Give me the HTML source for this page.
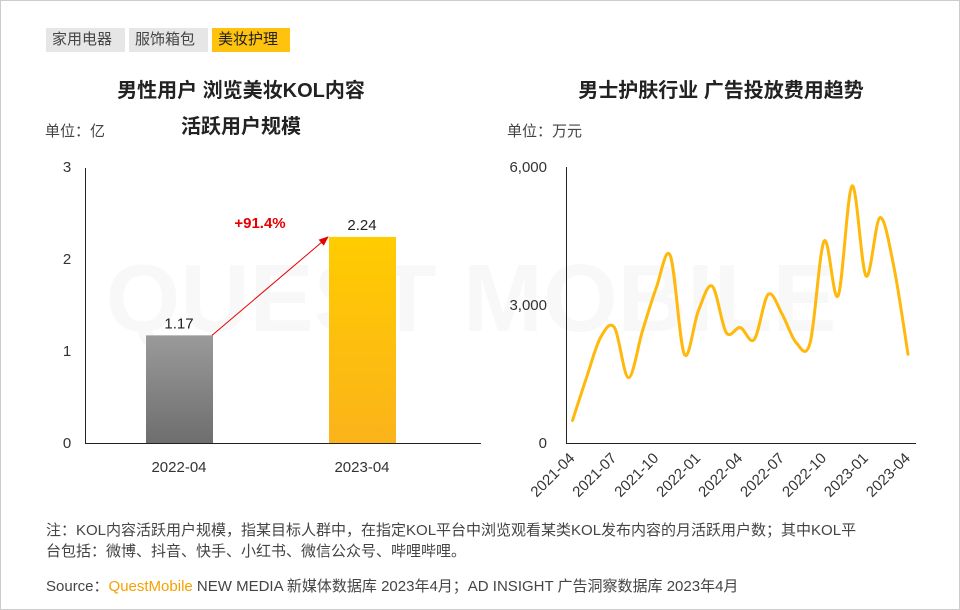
<!DOCTYPE html>
<html><head><meta charset="utf-8"><style>
body{margin:0;background:#fff;}
#page{position:relative;width:958px;height:608px;border:1px solid #ccc;overflow:hidden;font-family:"Liberation Sans","Noto Sans CJK SC",sans-serif;color:#333;}
.tab{position:absolute;top:27px;height:24px;line-height:24px;font-size:15px;padding:0 6px;background:#e6e6e6;color:#444;}
.abs{position:absolute;white-space:nowrap;}
</style></head><body>
<div id="page">
<div class="tab" style="left:45px;width:67px">家用电器</div>
<div class="tab" style="left:128px;width:67px">服饰箱包</div>
<div class="tab" style="left:211px;width:66px;background:#ffc20e;color:#222">美妆护理</div>
<div class="abs" style="left:0;width:480px;top:72px;text-align:center;font-size:20px;font-weight:bold;line-height:36px;color:#222">男性用户 浏览美妆KOL内容<br>活跃用户规模</div>
<div class="abs" style="left:44px;top:119px;font-size:15px;color:#444">单位：亿</div>
<div class="abs" style="left:480px;width:480px;top:78px;text-align:center;font-size:20px;font-weight:bold;line-height:24px;color:#222">男士护肤行业 广告投放费用趋势</div>
<div class="abs" style="left:506px;top:119px;font-size:15px;color:#444">单位：万元</div>
<svg id="svg" width="960" height="610" style="position:absolute;left:0;top:0">
<defs>
<linearGradient id="gg" x1="0" y1="0" x2="0" y2="1"><stop offset="0" stop-color="#9a9a9a"/><stop offset="1" stop-color="#6e6e6e"/></linearGradient>
<linearGradient id="gy" x1="0" y1="0" x2="0" y2="1"><stop offset="0" stop-color="#ffcc00"/><stop offset="1" stop-color="#fbb31a"/></linearGradient>
<marker id="ar" markerWidth="10" markerHeight="8" refX="9" refY="4" orient="auto"><path d="M0,0 L10,4 L0,8 Z" fill="#e60000"/></marker>
</defs>
<text x="470" y="330" font-size="96" font-weight="bold" fill="#f8f8f8" text-anchor="middle" font-family="Liberation Sans">QUEST MOBILE</text>
<g id="left"></g><g id="right"></g>
</svg>
<div class="abs" style="left:45px;top:519px;font-size:15px;line-height:21px;color:#444">注：KOL内容活跃用户规模，指某目标人群中，在指定KOL平台中浏览观看某类KOL发布内容的月活跃用户数；其中KOL平<br>台包括：微博、抖音、快手、小红书、微信公众号、哔哩哔哩。</div>
<div class="abs" style="left:45px;top:574px;font-size:15px;color:#444">Source：<span style="color:#f7a000">QuestMobile</span> NEW MEDIA 新媒体数据库 2023年4月；AD INSIGHT 广告洞察数据库 2023年4月</div>
</div>
<script>
const barCats=["2022-04","2023-04"];
const barVals=[1.17,2.24];
const barTicks=[0,1,2,3];
const growthLabel="+91.4%";
const lineCats=["2021-04","2021-05","2021-06","2021-07","2021-08","2021-09","2021-10","2021-11","2021-12","2022-01","2022-02","2022-03","2022-04","2022-05","2022-06","2022-07","2022-08","2022-09","2022-10","2022-11","2022-12","2023-01","2023-02","2023-03","2023-04"];
const lineVals=[490,1420,2290,2510,1420,2430,3380,4070,1930,2870,3410,2400,2510,2250,3230,2800,2180,2180,4390,3200,5590,3630,4900,3810,1930];
const lineTicks=[0,3000,6000];
const NS="http://www.w3.org/2000/svg";
function mk(p,t,a){const e=document.createElementNS(NS,t);for(const k in a)e.setAttribute(k,a[k]);p.appendChild(e);return e;}
const L=document.getElementById('left');
const ly=v=>442-v*92;
const lx=i=>178+i*183;
barTicks.forEach(t=>{const e=mk(L,'text',{x:66,y:ly(t)+5,'font-size':15,'text-anchor':'middle',fill:'#333'});e.textContent=t;

});
barVals.forEach((v,i)=>{
 const r=mk(L,'rect',{x:lx(i)-33,y:ly(v),width:67,height:ly(0)-ly(v),fill:i?'url(#gy)':'url(#gg)'});
 
 
 const t=mk(L,'text',{x:lx(i),y:ly(v)-7,'font-size':15,'text-anchor':'middle',fill:'#222'});t.textContent=v.toFixed(2);
 
 
 const c=mk(L,'text',{x:lx(i),y:471,'font-size':15,'text-anchor':'middle',fill:'#333'});c.textContent=barCats[i];
 
 
});
const ax=mk(L,'path',{d:'M84.5,167 V442.5 H480',stroke:'#222',fill:'none','stroke-width':1});


const arw=mk(L,'line',{x1:lx(0)+33,y1:ly(barVals[0]),x2:lx(1)-34,y2:ly(barVals[1]),stroke:'#e60000','stroke-width':1,'marker-end':'url(#ar)'});


const gl=mk(L,'text',{x:259,y:227,'font-size':15,'font-weight':'bold','text-anchor':'middle',fill:'#e60000'});gl.textContent=growthLabel;


const R=document.getElementById('right');
const ry=v=>442-v/6000*276;
const rx=i=>571.5+i*(335.5/(lineCats.length-1));
lineTicks.forEach(t=>{const e=mk(R,'text',{x:546,y:ry(t)+5,'font-size':15,'text-anchor':'end',fill:'#333'});e.textContent=t.toLocaleString('en-US');

});
const ax2=mk(R,'path',{d:'M565.5,166 V442.5 H915',stroke:'#222',fill:'none','stroke-width':1});


lineCats.forEach((c,i)=>{if(i%3)return;
 const e=mk(R,'text',{x:0,y:0,'font-size':15,'text-anchor':'end',fill:'#333',transform:`translate(${rx(i)+3},${458}) rotate(-45)`});e.textContent=c;
 
 });
const P=lineVals.map((v,i)=>[rx(i),ry(v)]);
let d='M'+P[0][0]+','+P[0][1];
for(let i=0;i<P.length-1;i++){const p0=P[i-1]||P[i],p1=P[i],p2=P[i+1],p3=P[i+2]||P[i+1];
 d+=` C${p1[0]+(p2[0]-p0[0])/6},${p1[1]+(p2[1]-p0[1])/6} ${p2[0]-(p3[0]-p1[0])/6},${p2[1]-(p3[1]-p1[1])/6} ${p2[0]},${p2[1]}`;}
const ln=mk(R,'path',{d:d,stroke:'#ffb80c','stroke-width':3,fill:'none','stroke-linecap':'round'});


</script>
</body></html>
